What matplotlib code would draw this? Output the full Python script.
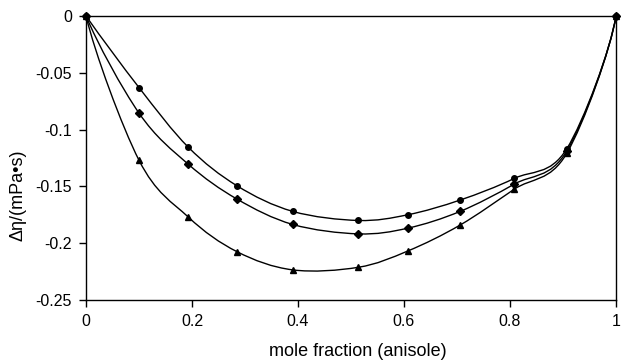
import numpy as np
import matplotlib
matplotlib.use('Agg')
import matplotlib.pyplot as plt
from matplotlib.path import Path
from matplotlib.patches import PathPatch

plt.rcParams['font.family'] = ['Liberation Sans', 'DejaVu Sans']

# mole fraction of anisole
x = [0.0, 0.10, 0.193, 0.285, 0.39, 0.514, 0.607, 0.706, 0.808, 0.907, 1.0]
# excess viscosity, three series
eta_circle = [0.0, -0.063, -0.1155, -0.1495, -0.172, -0.180, -0.175, -0.162, -0.143, -0.117, 0.0]
eta_diamond = [0.0, -0.0855, -0.1305, -0.1612, -0.1835, -0.1918, -0.1868, -0.172, -0.148, -0.119, 0.0]
eta_triangle = [0.0, -0.127, -0.177, -0.2075, -0.2235, -0.2212, -0.2069, -0.184, -0.1525, -0.121, 0.0]

xticks = [0, 0.2, 0.4, 0.6, 0.8, 1]
yticks = [0, -0.05, -0.1, -0.15, -0.2, -0.25]
ytick_labels = ['0', '-0.05', '-0.1', '-0.15', '-0.2', '-0.25']

# y is stretched so the smoothing works in (roughly) screen proportions
YSCALE = (284 / 530) / 0.25


def reflect(t, d):
    d = d / np.linalg.norm(d)
    return 2 * np.dot(t, d) * d - t


def smooth_path(xs, ys):
    # smoothed line: cubic bezier through every point,
    # end tangents mirrored about the end chord
    p = np.column_stack([xs, np.asarray(ys) * YSCALE])
    n = len(p)
    tang = [None] * n
    for i in range(1, n - 1):
        tang[i] = (p[i + 1] - p[i - 1]) / 6
    tang[0] = reflect(tang[1], p[1] - p[0])
    tang[n - 1] = reflect(tang[n - 2], p[n - 1] - p[n - 2])
    verts = [p[0]]
    codes = [Path.MOVETO]
    for i in range(n - 1):
        verts += [p[i] + tang[i], p[i + 1] - tang[i + 1], p[i + 1]]
        codes += [Path.CURVE4] * 3
    verts = np.array(verts)
    verts[:, 1] /= YSCALE
    return Path(verts, codes)


fig = plt.figure(figsize=(6.26, 3.6), dpi=100)
ax = fig.add_axes([0.1374, 0.1667, 0.8466, 0.7889])

for ys, m, ms in [(eta_circle, 'o', 4), (eta_diamond, 'D', 4), (eta_triangle, '^', 5)]:
    ax.add_patch(PathPatch(smooth_path(x, ys), fill=False, color='black', lw=1.0))
    ax.plot(x, ys, ls='none', marker=m, ms=ms, color='black', clip_on=False)

ax.set_xlim(0, 1)
ax.set_ylim(-0.25, 0)
ax.set_xticks(xticks)
ax.set_xticklabels([f'{t:g}' for t in xticks])
ax.set_yticks(yticks)
ax.set_yticklabels(ytick_labels)
ax.tick_params(direction='out', length=5, width=1, labelsize=11.5, colors='black', pad=5)
for s in ax.spines.values():
    s.set_linewidth(1.0)
ax.set_xlabel('mole fraction (anisole)', fontsize=13)
ax.set_ylabel('Δη/(mPa•s)', fontsize=13)
ax.xaxis.set_label_coords(0.513, -0.152)
ax.yaxis.set_label_coords(-0.112, 0.37)

fig.savefig('out.png', dpi=100)
